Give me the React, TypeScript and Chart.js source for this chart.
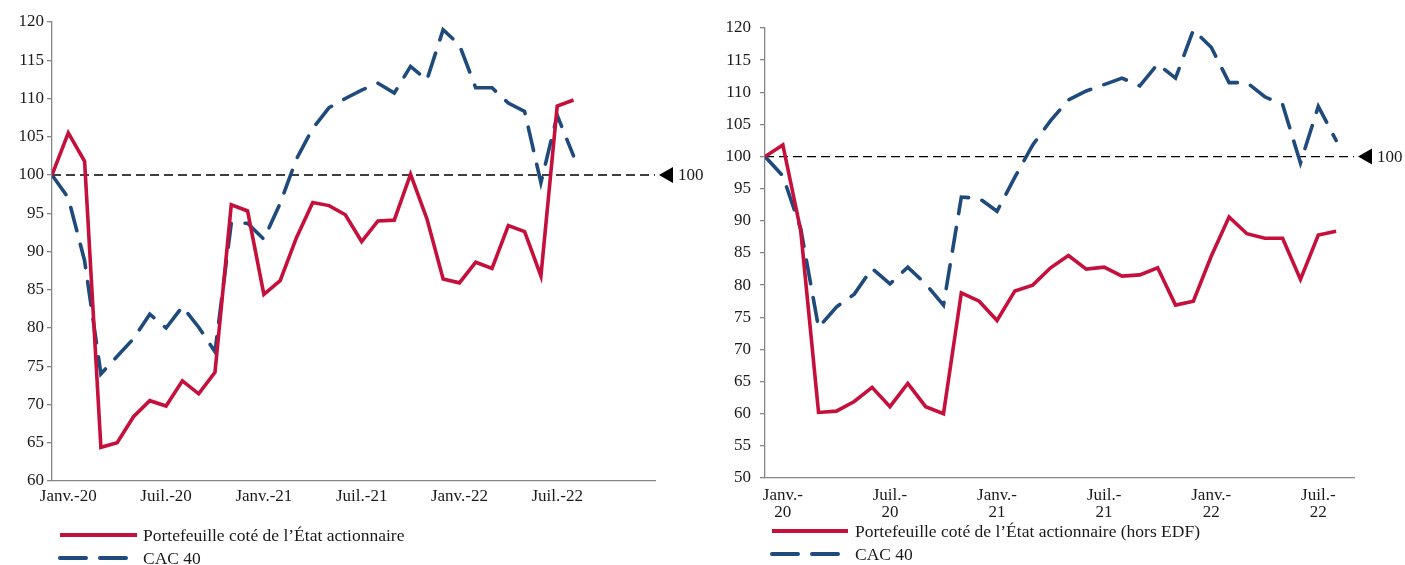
import React, { useEffect, useRef } from "react";
import { Chart, registerables } from "chart.js";

Chart.register(...registerables);

// ---- Data (monthly, Dec. 2019 = 100) ----
const tickPositions = [1, 7, 13, 19, 25, 31];
const leftTickLabels = ["Janv.-20", "Juil.-20", "Janv.-21", "Juil.-21", "Janv.-22", "Juil.-22"];
const rightTickLabels = [
  ["Janv.-", "20"],
  ["Juil.-", "20"],
  ["Janv.-", "21"],
  ["Juil.-", "21"],
  ["Janv.-", "22"],
  ["Juil.-", "22"],
];

const portefeuille = [
  100, 105.5, 101.8, 64.4, 65.0, 68.4, 70.5, 69.8, 73.1, 71.4, 74.2, 96.1, 95.3, 84.4, 86.2, 91.8,
  96.4, 96.0, 94.8, 91.3, 94.0, 94.1, 100.1, 94.3, 86.4, 85.9, 88.6, 87.8, 93.4, 92.6, 86.8, 109.0, 109.8,
];
const cac40Left = [
  100, 97.0, 88.8, 74.0, 76.3, 78.6, 81.8, 80.0, 82.8, 80.1, 76.9, 93.7, 93.7, 91.6, 96.3, 102.1,
  106.1, 108.8, 110.0, 111.1, 112.0, 110.7, 114.2, 112.4, 119.0, 117.0, 111.4, 111.4, 109.4, 108.3, 99.0, 107.8, 102.5,
];
const portefeuilleHorsEdf = [
  100, 101.8, 88.5, 60.2, 60.4, 61.9, 64.1, 61.1, 64.7, 61.1, 60.0, 78.8, 77.5, 74.5, 79.1, 80.0,
  82.7, 84.6, 82.5, 82.8, 81.4, 81.6, 82.7, 76.9, 77.5, 84.5, 90.6, 88.0, 87.3, 87.3, 80.9, 87.8, 88.4,
];
const cac40Right = [
  100, 97.0, 88.8, 73.4, 76.6, 78.6, 82.6, 80.2, 82.8, 80.2, 76.9, 93.7, 93.5, 91.5, 96.8, 101.8,
  105.6, 108.8, 110.2, 111.2, 112.2, 111.0, 114.4, 112.2, 119.7, 117.0, 111.5, 111.5, 109.3, 108.1, 99.0, 107.8, 102.5,
];
const referenceValue = 100;

const RED = "#C5103C";
const BLUE = "#1F4A7C";
const AXIS = "#868686";
const TEXT = "#1a1a1a";
const FONT = "'Liberation Serif', 'Times New Roman', serif";

const markerPlugin = {
  id: "refMarker",
  afterDraw(chart: any, _args: any, opts: any) {
    const { ctx, chartArea, scales } = chart;
    const y = scales.y.getPixelForValue(opts.value);
    const x0 = chartArea.right + 4;
    ctx.save();
    ctx.fillStyle = "#000";
    ctx.beginPath();
    ctx.moveTo(x0, y);
    ctx.lineTo(x0 + 14, y - 8);
    ctx.lineTo(x0 + 14, y + 8);
    ctx.closePath();
    ctx.fill();
    ctx.font = `17px ${FONT}`;
    ctx.fillStyle = TEXT;
    ctx.textBaseline = "middle";
    ctx.textAlign = "left";
    ctx.fillText(opts.text, x0 + 19, y + 1);

    // legend
    for (const item of opts.legend) {
      ctx.beginPath();
      ctx.strokeStyle = item.color;
      ctx.lineWidth = 4;
      ctx.lineCap = item.dash.length ? "round" : "butt";
      ctx.setLineDash(item.dash);
      ctx.moveTo(opts.legendX0, item.y);
      ctx.lineTo(opts.legendX1, item.y);
      ctx.stroke();
      ctx.setLineDash([]);
      ctx.fillStyle = TEXT;
      ctx.font = `17.5px ${FONT}`;
      ctx.fillText(item.text, opts.legendTextX, item.y + 1);
    }
    ctx.restore();
  },
};

function buildConfig(p: any) {
  const toPts = (arr: number[]) => arr.map((v, i) => ({ x: i, y: v }));
  return {
    type: "line",
    data: {
      datasets: [
        {
          label: p.redLabel,
          data: toPts(p.red),
          borderColor: RED,
          backgroundColor: RED,
          borderWidth: 3.6,
          pointRadius: 0,
          tension: 0,
          borderJoinStyle: "miter",
        },
        {
          label: "CAC 40",
          data: toPts(p.blue),
          borderColor: BLUE,
          backgroundColor: BLUE,
          borderWidth: 3.6,
          borderDash: [24, 14],
          borderCapStyle: "round",
          pointRadius: 0,
          tension: 0,
        },
        {
          label: "ref",
          data: [
            { x: 0, y: referenceValue },
            { x: p.xMax, y: referenceValue },
          ],
          borderColor: "#000",
          borderWidth: 1.3,
          borderDash: [9, 5],
          pointRadius: 0,
        },
      ],
    },
    options: {
      animation: false,
      responsive: true,
      maintainAspectRatio: false,
      layout: { padding: p.padding },
      plugins: {
        legend: { display: false },
        tooltip: { enabled: false },
        refMarker: {
          value: referenceValue,
          text: "100",
          legendX0: p.legendX0,
          legendX1: p.legendX1,
          legendTextX: p.legendTextX,
          legend: [
            { text: p.redLabel, color: RED, dash: [], y: p.legendY[0] },
            { text: "CAC 40", color: BLUE, dash: [26, 14], y: p.legendY[1] },
          ],
        },
      },
      scales: {
        x: {
          type: "linear",
          min: 0,
          max: p.xMax,
          afterBuildTicks: (s: any) => {
            s.ticks = tickPositions.map((v) => ({ value: v }));
          },
          afterFit: (s: any) => {
            s.height = p.xHeight;
          },
          ticks: {
            autoSkip: false,
            maxRotation: 0,
            minRotation: 0,
            padding: p.xPad,
            color: TEXT,
            font: { family: FONT, size: 17, lineHeight: 1.0 },
            callback: (v: number) => p.tickLabels[tickPositions.indexOf(v)],
          },
          grid: { display: true, drawOnChartArea: false, drawTicks: false },
          border: { color: AXIS, width: 1.3 },
        },
        y: {
          min: p.yMin,
          max: 120,
          afterFit: (s: any) => {
            s.width = p.yWidth;
          },
          ticks: {
            stepSize: 5,
            padding: p.yPad,
            color: TEXT,
            font: { family: FONT, size: 17 },
          },
          grid: { drawOnChartArea: false, drawTicks: true, tickLength: 5, color: AXIS, lineWidth: 1.3 },
          border: { color: AXIS, width: 1.3 },
        },
      },
    },
    plugins: [markerPlugin],
  };
}

function LineChart({ config, style }: any) {
  const ref = useRef<HTMLCanvasElement>(null);
  useEffect(() => {
    const chart = new Chart(ref.current as HTMLCanvasElement, config);
    return () => chart.destroy();
  }, []);
  return (
    <div style={style}>
      <canvas ref={ref} />
    </div>
  );
}

const leftConfig = buildConfig({
  red: portefeuille,
  blue: cac40Left,
  redLabel: "Portefeuille coté de l’État actionnaire",
  xMax: 37,
  yMin: 60,
  tickLabels: leftTickLabels,
  padding: { left: 0, right: 50, top: 22, bottom: 54 },
  xHeight: 30,
  xPad: 7,
  yWidth: 52,
  yPad: 3,
  legendX0: 60,
  legendX1: 137,
  legendTextX: 143,
  legendY: [535, 558],
});

const rightConfig = buildConfig({
  red: portefeuilleHorsEdf,
  blue: cac40Right,
  redLabel: "Portefeuille coté de l’État actionnaire (hors EDF)",
  xMax: 33,
  yMin: 50,
  tickLabels: rightTickLabels,
  padding: { left: 0, right: 51, top: 28, bottom: 42 },
  xHeight: 45,
  xPad: 9,
  yWidth: 60,
  yPad: 9,
  legendX0: 67,
  legendX1: 143,
  legendTextX: 150,
  legendY: [531, 554],
});

export default function App() {
  return (
    <div style={{ position: "fixed", left: 0, top: 0, width: 1405, height: 565, background: "#fff" }}>
      <LineChart config={leftConfig} style={{ position: "absolute", left: 0, top: 0, width: 705, height: 565 }} />
      <LineChart config={rightConfig} style={{ position: "absolute", left: 705, top: 0, width: 700, height: 565 }} />
    </div>
  );
}
